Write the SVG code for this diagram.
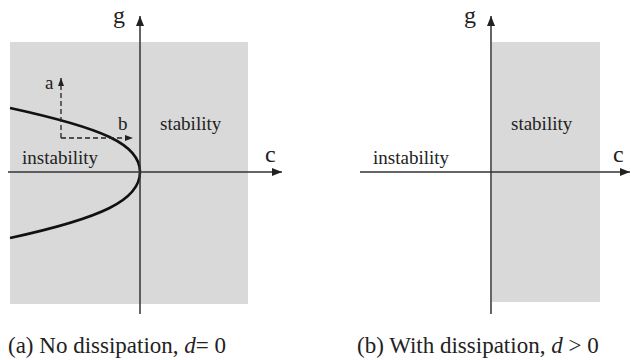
<svg xmlns="http://www.w3.org/2000/svg" width="631" height="360" viewBox="0 0 631 360">
  <defs>
    <style>
      .region { fill: #d9d9d9; stroke: none; }
      .axis { stroke: #333333; stroke-width: 1.5; fill: none; }
      .dash { stroke: #222222; stroke-width: 1.3; stroke-dasharray: 5 3; fill: none; }
      .curve { stroke: #111111; stroke-width: 2.6; fill: none; }
      .lbl { font-family: "Liberation Serif", "Times New Roman", serif; fill: #222222; }
      .region-lbl { font-size: 19px; }
      .axis-lbl { font-size: 24px; }
      .caption { font-size: 23px; }
    </style>
    <marker id="axisArrow" viewBox="0 0 10 8" refX="10" refY="4" markerWidth="10" markerHeight="8" markerUnits="userSpaceOnUse" orient="auto">
      <path d="M0,0 L10,4 L0,8 Z" fill="#222222"/>
    </marker>
    <marker id="smallArrow" viewBox="0 0 8 6" refX="8" refY="3" markerWidth="8" markerHeight="6" markerUnits="userSpaceOnUse" orient="auto">
      <path d="M0,0 L8,3 L0,6 Z" fill="#222222"/>
    </marker>
  </defs>

  <!-- Panel (a) -->
  <g id="panel-a">
    <rect id="a-stability-region" class="region" x="10" y="42" width="238" height="262"/>
    <g id="a-boundary">
      <path class="curve" d="M10,108 C102,128 140,144 140,172 C140,200 102,218 10,238"/>
    </g>
    <g id="a-labels">
      <text class="lbl region-lbl" x="160" y="130">stability</text>
      <text class="lbl region-lbl" x="22" y="164">instability</text>
      <text class="lbl region-lbl" x="45" y="89">a</text>
      <text class="lbl region-lbl" x="118" y="130">b</text>
      <text class="lbl axis-lbl" x="113" y="23">g</text>
      <text class="lbl axis-lbl" x="265" y="162">c</text>
    </g>
  </g>

  <!-- Panel (b) -->
  <g id="panel-b">
    <rect id="b-stability-region" class="region" x="492" y="42" width="108" height="260"/>
    <g id="b-labels">
      <text class="lbl region-lbl" x="511" y="130">stability</text>
      <text class="lbl region-lbl" x="373" y="164">instability</text>
      <text class="lbl axis-lbl" x="464" y="23">g</text>
      <text class="lbl axis-lbl" x="613" y="162">c</text>
    </g>
  </g>

  <!-- Connectors: axes and dashed arrows -->
  <g id="connectors">
    <line class="axis" x1="140" y1="314" x2="140" y2="16" marker-end="url(#axisArrow)"/>
    <line class="axis" x1="8" y1="172" x2="282" y2="172" marker-end="url(#axisArrow)"/>
    <line class="axis" x1="491" y1="314" x2="491" y2="16" marker-end="url(#axisArrow)"/>
    <line class="axis" x1="360" y1="172" x2="630" y2="172" marker-end="url(#axisArrow)"/>
    <line class="dash" x1="61" y1="138" x2="61" y2="78" marker-end="url(#smallArrow)"/>
    <line class="dash" x1="61" y1="138" x2="133" y2="138" marker-end="url(#smallArrow)"/>
  </g>

  <!-- Captions -->
  <g id="captions">
    <text class="lbl caption" x="8" y="353">(a) No dissipation, <tspan font-style="italic">d</tspan>= 0</text>
    <text class="lbl caption" x="357" y="353">(b) With dissipation, <tspan font-style="italic">d</tspan> &gt; 0</text>
  </g>
</svg>
